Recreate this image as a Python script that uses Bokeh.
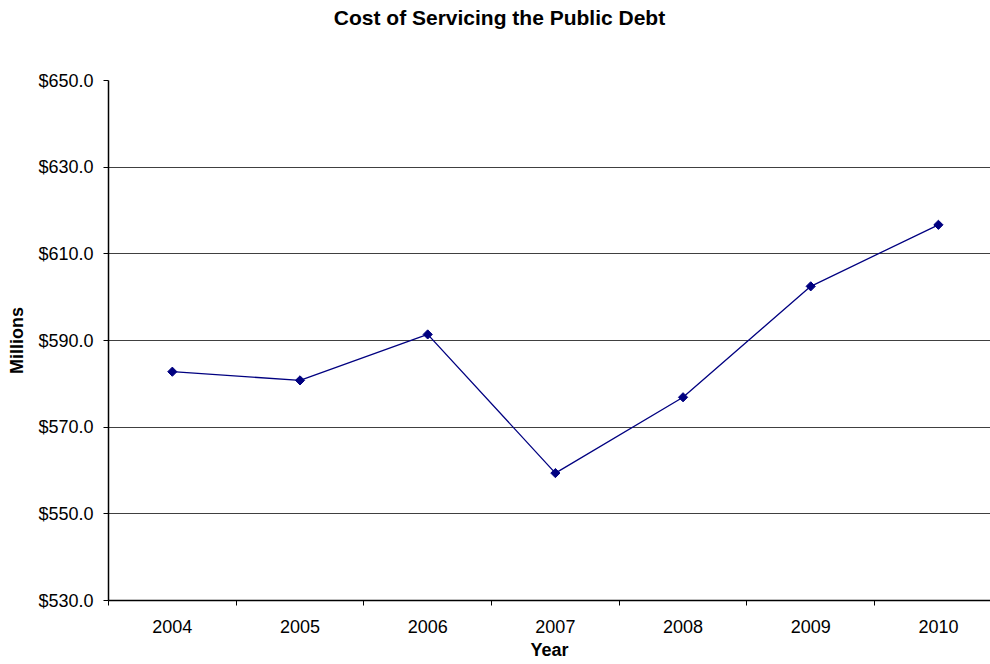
import math
from bokeh.plotting import figure
from bokeh.models import (Range1d, FixedTicker, NumeralTickFormatter, ColumnDataSource,
                          LinearAxis)
from bokeh.embed import file_html
from bokeh.resources import INLINE

title_text = "Cost of Servicing the Public Debt"
years = ["2004", "2005", "2006", "2007", "2008", "2009", "2010"]
cost = [582.8, 580.8, 591.4, 559.4, 576.9, 602.5, 616.7]
y_ticks = [530, 550, 570, 590, 610, 630, 650]

xs = [i + 0.5 for i in range(len(years))]
src = ColumnDataSource(dict(x=xs, y=cost, year=years))

FONT = "Liberation Sans"
FS = "18px"

p = figure(width=990, height=664, output_backend="svg", toolbar_location=None,
           x_range=Range1d(0, 6.908), y_range=Range1d(530, 650),
           min_border_left=108, min_border_right=0, min_border_top=80,
           min_border_bottom=64)
p.outline_line_color = None
p.background_fill_color = "white"
p.title.text = ""

p.line("x", "y", source=src, line_color="#000080", line_width=1.3)
p.scatter("x", "y", source=src, marker="square", angle=math.pi / 4, size=6.5,
          fill_color="#000080", line_color="#000080")

# x axis (bottom)
xa = p.below[0]
xa.ticker = FixedTicker(ticks=xs, minor_ticks=list(range(len(years) + 1)))
xa.major_label_overrides = {x: y for x, y in zip(xs, years)}
xa.major_tick_line_color = None
xa.major_tick_out = 0
xa.major_tick_in = 0
xa.minor_tick_out = 5
xa.minor_tick_in = 0
xa.minor_tick_line_color = "black"
xa.axis_line_color = "black"
xa.axis_line_width = 1.5
xa.major_label_text_font = FONT
xa.major_label_text_font_size = FS
xa.major_label_text_color = "black"
xa.major_label_standoff = 14
xa.axis_label = "Year"
xa.axis_label_text_font = FONT
xa.axis_label_text_font_size = FS
xa.axis_label_text_font_style = "bold"
xa.axis_label_text_color = "black"
xa.axis_label_standoff = 4
p.xgrid.grid_line_color = None

# y axis
ya = p.left[0]
ya.ticker = FixedTicker(ticks=y_ticks, minor_ticks=[])
ya.formatter = NumeralTickFormatter(format="$0.0")
ya.major_tick_out = 5
ya.major_tick_in = 0
ya.minor_tick_out = 0
ya.minor_tick_in = 0
ya.major_tick_line_color = "black"
ya.axis_line_color = "black"
ya.axis_line_width = 1.5
ya.major_label_text_font = FONT
ya.major_label_text_font_size = FS
ya.major_label_text_color = "black"
ya.major_label_standoff = 10
ya.axis_label = "Millions"
ya.axis_label_text_font = FONT
ya.axis_label_text_font_size = FS
ya.axis_label_text_font_style = "bold"
ya.axis_label_text_color = "black"
ya.axis_label_standoff = 8
p.ygrid.grid_line_color = "#404040"
p.ygrid.grid_line_width = 1

# chart title, drawn as the single label of a bare axis above the frame
TITLE_POS = 3.0625
tax = LinearAxis(ticker=FixedTicker(ticks=[TITLE_POS], minor_ticks=[]),
                 major_label_overrides={TITLE_POS: title_text},
                 axis_line_color=None, major_tick_line_color=None,
                 minor_tick_line_color=None, major_tick_out=0, major_tick_in=0,
                 minor_tick_out=0, minor_tick_in=0,
                 major_label_standoff=52, major_label_text_font=FONT,
                 major_label_text_font_size="21px", major_label_text_font_style="bold",
                 major_label_text_color="black")
p.add_layout(tax, "above")

open("out.html", "w").write(file_html(p, INLINE))
